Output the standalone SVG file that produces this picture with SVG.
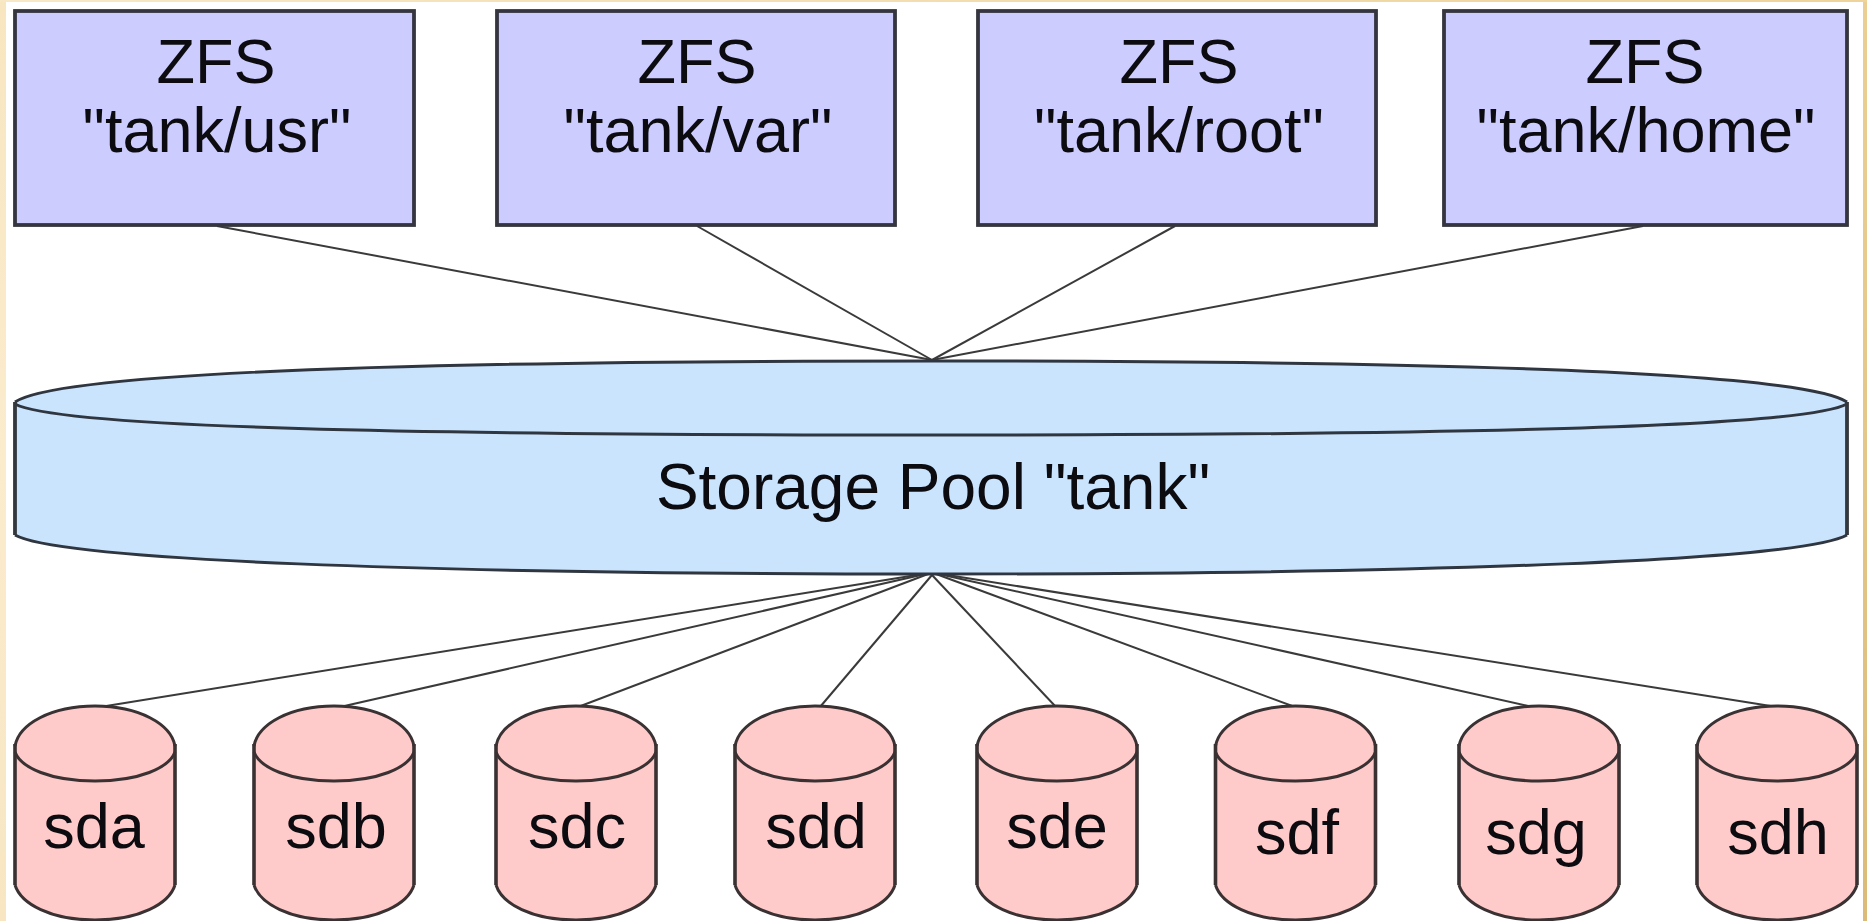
<svg xmlns="http://www.w3.org/2000/svg" width="1867" height="921" viewBox="0 0 1867 921">
<style>
text{font-family:"Liberation Sans",Arial,sans-serif;font-size:63px;fill:#0c0c10;text-anchor:middle}
.fs{fill:#ccccff;stroke:#35353f;stroke-width:3.8}
.pool{fill:#cae4fe}
.pe{fill:none;stroke:#2f3640;stroke-width:3}
.ps{fill:none;stroke:#33383e;stroke-width:3.8}
.disk{fill:#ffcaca}
.de{fill:none;stroke:#3a3133;stroke-width:3}
.ds{fill:none;stroke:#3a3133;stroke-width:3.6}
#connectors line{stroke:#3a3a3a;stroke-width:2}
</style>
<defs>
<linearGradient id="lf" x1="0" y1="0" x2="0" y2="1"><stop offset="0" stop-color="#f8e6c0"/><stop offset="0.5" stop-color="#fbecce"/><stop offset="1" stop-color="#f8e6c2"/></linearGradient>
<linearGradient id="rf" x1="0" y1="0" x2="0" y2="1"><stop offset="0" stop-color="#ebcf92"/><stop offset="0.5" stop-color="#e4c688"/><stop offset="1" stop-color="#dcbb78"/></linearGradient>
<linearGradient id="tf" x1="0" y1="0" x2="1" y2="0"><stop offset="0" stop-color="#f8e8c6"/><stop offset="1" stop-color="#eed39a"/></linearGradient>
<g id="cyl">
<path class="disk" d="M-80 2C-76 -20 -44 -38 0 -38C44 -38 76 -20 80 2V141C74 160 44 176 0 176C-44 176 -74 160 -80 141Z"/>
<path class="de" d="M-80 2C-76 -20 -44 -38 0 -38C44 -38 76 -20 80 2M-80 8C-74 24 -44 37 0 37C44 37 74 24 80 8M-80 141C-74 160 -44 176 0 176C44 176 74 160 80 141"/>
<path class="ds" d="M-80 0V141M80 0V141"/>
</g>
</defs>
<rect width="1867" height="921" fill="#ffffff"/>
<g id="frame">
<rect x="0" y="0" width="6" height="921" fill="url(#lf)"/>
<rect x="1863" y="0" width="4" height="921" fill="url(#rf)"/>
<rect x="0" y="0" width="1867" height="2" fill="url(#tf)"/>
</g>
<g id="connectors">
<line x1="217" y1="226" x2="932" y2="360"/>
<line x1="697" y1="226" x2="932" y2="360"/>
<line x1="1175" y1="226" x2="932" y2="360"/>
<line x1="1643" y1="226" x2="932" y2="360"/>
<line x1="932" y1="572.500" x2="100" y2="707"/>
<line x1="932" y1="572.500" x2="340" y2="707"/>
<line x1="932" y1="572.500" x2="578" y2="707"/>
<line x1="932" y1="575" x2="820" y2="707"/>
<line x1="932" y1="575" x2="1056" y2="707"/>
<line x1="932" y1="572.500" x2="1295" y2="707"/>
<line x1="932" y1="572.500" x2="1533" y2="707"/>
<line x1="932" y1="572.500" x2="1777" y2="707"/>
</g>
<g id="fs-usr"><rect class="fs" x="15" y="11" width="399" height="214"/><text x="216" y="83">ZFS</text><text x="217" y="152">"tank/usr"</text></g>
<g id="fs-var"><rect class="fs" x="497" y="11" width="398" height="214"/><text x="697" y="83">ZFS</text><text x="698" y="152">"tank/var"</text></g>
<g id="fs-root"><rect class="fs" x="978" y="11" width="398" height="214"/><text x="1179" y="83">ZFS</text><text x="1179" y="152">"tank/root"</text></g>
<g id="fs-home"><rect class="fs" x="1444" y="11" width="403" height="214"/><text x="1645" y="83">ZFS</text><text x="1646" y="152">"tank/home"</text></g>
<g id="pool">
<path class="pool" d="M15 402C60 372 420 361 933 361C1442 361 1802 372 1847 402V535C1802 560 1442 574 933 574C420 574 60 560 15 535Z"/>
<path class="pe" d="M15 402C60 372 420 361 933 361C1442 361 1802 372 1847 402M15 404C60 428 420 435 933 435C1442 435 1802 428 1847 404M15 535C60 560 420 574 933 574C1442 574 1802 560 1847 535"/>
<path class="ps" d="M15 402V535M1847 402V535"/>
<text x="933" y="509" style="font-size:64px">Storage Pool "tank"</text>
</g>
<g id="sda" transform="translate(95 744)"><use href="#cyl"/><text x="-1" y="104">sda</text></g>
<g id="sdb" transform="translate(334 744)"><use href="#cyl"/><text x="2" y="104">sdb</text></g>
<g id="sdc" transform="translate(576 744)"><use href="#cyl"/><text x="1" y="104">sdc</text></g>
<g id="sdd" transform="translate(815 744)"><use href="#cyl"/><text x="1" y="104">sdd</text></g>
<g id="sde" transform="translate(1057 744)"><use href="#cyl"/><text x="0" y="104">sde</text></g>
<g id="sdf" transform="translate(1295.500 744)"><use href="#cyl"/><text x="1.500" y="110">sdf</text></g>
<g id="sdg" transform="translate(1539 744)"><use href="#cyl"/><text x="-3" y="110">sdg</text></g>
<g id="sdh" transform="translate(1777 744)"><use href="#cyl"/><text x="1" y="110">sdh</text></g>
</svg>
